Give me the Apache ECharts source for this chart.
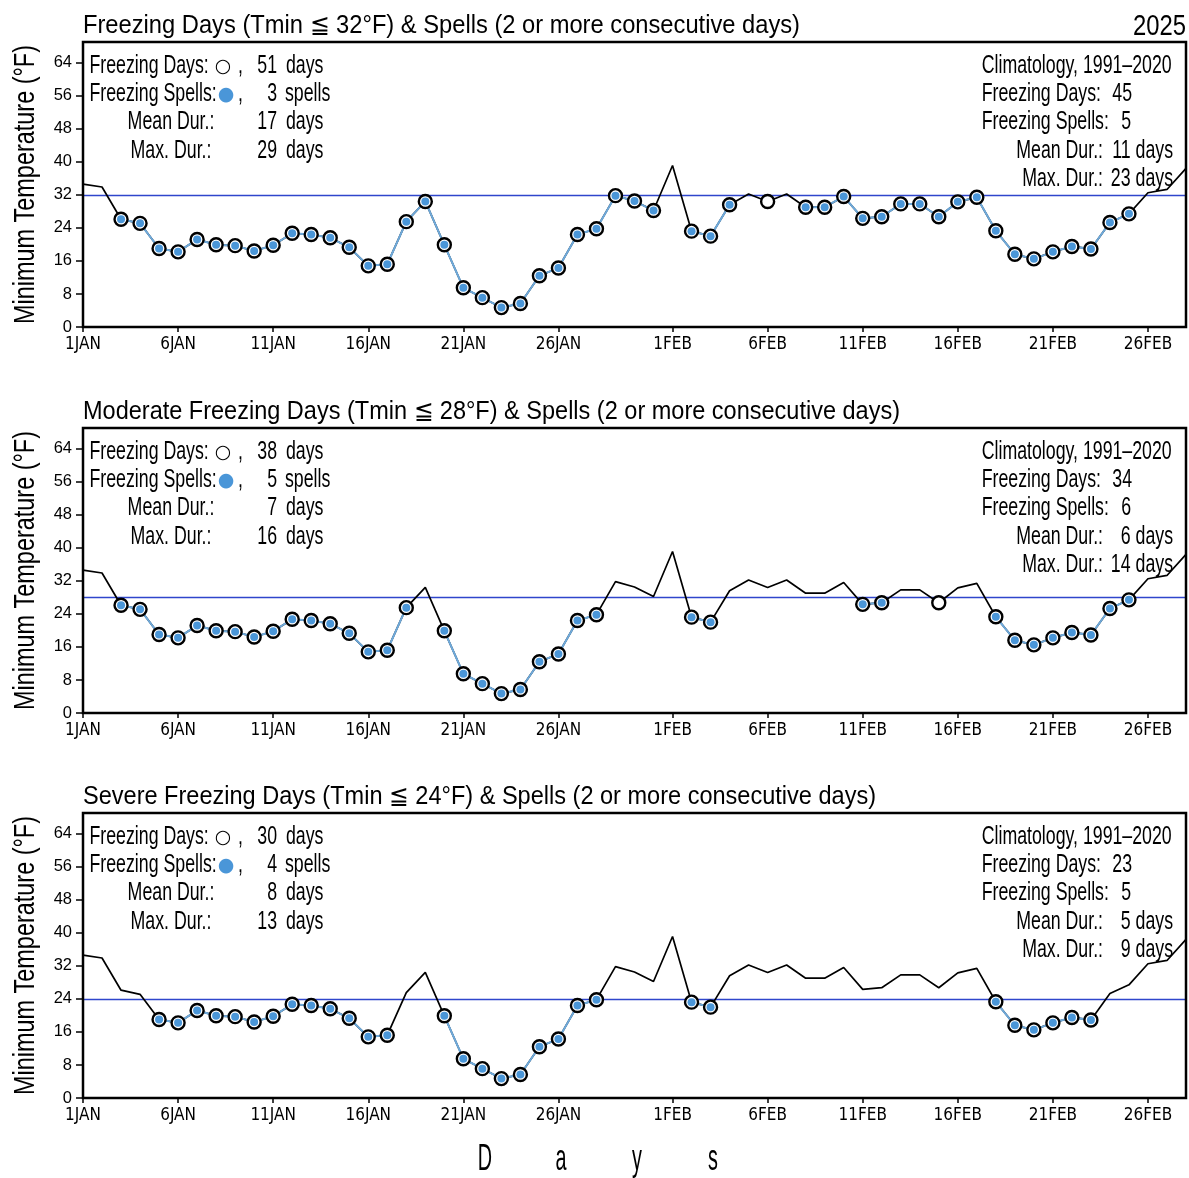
<!DOCTYPE html>
<html><head><meta charset="utf-8">
<script src="https://cdn.jsdelivr.net/npm/echarts@6/dist/echarts.min.js"></script>
<style>html,body{margin:0;padding:0;background:#fff}#c{width:1189px;height:1178px}</style>
</head><body><div id="c"></div>
<script>
// ---------------- DATA ----------------
const days = ['1JAN','2JAN','3JAN','4JAN','5JAN','6JAN','7JAN','8JAN','9JAN','10JAN',
  '11JAN','12JAN','13JAN','14JAN','15JAN','16JAN','17JAN','18JAN','19JAN','20JAN',
  '21JAN','22JAN','23JAN','24JAN','25JAN','26JAN','27JAN','28JAN','29JAN','30JAN','31JAN',
  '1FEB','2FEB','3FEB','4FEB','5FEB','6FEB','7FEB','8FEB','9FEB','10FEB',
  '11FEB','12FEB','13FEB','14FEB','15FEB','16FEB','17FEB','18FEB','19FEB','20FEB',
  '21FEB','22FEB','23FEB','24FEB','25FEB','26FEB','27FEB','28FEB'];
const xTickLabels = ['1JAN','6JAN','11JAN','16JAN','21JAN','26JAN',
  '1FEB','6FEB','11FEB','16FEB','21FEB','26FEB'];
const tmin = [34.6,33.9,26.1,25.1,19.0,18.2,21.2,19.9,19.7,18.4,
  19.8,22.7,22.4,21.6,19.3,14.8,15.2,25.5,30.4,19.9,
  9.5,7.1,4.7,5.7,12.4,14.3,22.4,23.8,31.8,30.5,28.2,
  39.1,23.2,22.0,29.6,32.2,30.4,32.2,29.0,29.0,31.6,
  26.3,26.7,29.8,29.8,26.7,30.3,31.4,23.3,17.6,16.5,
  18.2,19.5,18.9,25.3,27.4,32.5,33.3,38.4];
const thresholds = [32, 28, 24];
const panelTitles = [
  'Freezing Days (Tmin \u2266 32\u00B0F) & Spells (2 or more consecutive days)',
  'Moderate Freezing Days (Tmin \u2266 28\u00B0F) & Spells (2 or more consecutive days)',
  'Severe Freezing Days (Tmin \u2266 24\u00B0F) & Spells (2 or more consecutive days)'];
const yearLabel = '2025';
const obsFreezingDays = [51, 38, 30];
const obsSpells = [3, 5, 4];
const obsMeanDur = [17, 7, 8];
const obsMaxDur = [29, 16, 13];
const climTitle = 'Climatology, 1991\u20132020';
const climFreezingDays = [45, 34, 23];
const climSpells = [5, 6, 5];
const climMeanDur = [11, 6, 5];
const climMaxDur = [23, 14, 9];
const yTicks = [0, 8, 16, 24, 32, 40, 48, 56, 64];
const yName = 'Minimum Temperature (\u00B0F)';
const xName = 'Days';

// ---------------- LAYOUT ----------------
const FONT = 'Liberation Sans';
const tops = [42, 428, 813];
const gridH = 285;
const titleWidths = [717, 817, 793];
const BLUE = '#4a96d8', BLUE_LINE = '#6ea9da', THR = '#2f46cc';

const ctx = document.createElement('canvas').getContext('2d');
function textW(s, size) { ctx.font = size + 'px "' + FONT + '"'; return ctx.measureText(s).width; }
function txt(s, x, y, size, sx, align, extra) {
  return Object.assign({ type: 'text', x: x, y: y, scaleX: sx, z: 100, silent: true,
    style: { text: s, fontSize: size, fontFamily: FONT, fill: '#000', align: align || 'left', verticalAlign: 'middle' } }, extra || {});
}
function glyph(s, x, y, color) {
  return { type: 'text', x: x, y: y, z: 100, silent: true,
    style: { text: s, fontSize: 19, fontFamily: 'DejaVu Sans', fill: color, align: 'center', verticalAlign: 'middle' } };
}
const AS = 190 / textW(climTitle, 25);   // annotation condense factor
const graphics = [];
const isTick = function (idx, val) { return xTickLabels.indexOf(days[idx]) >= 0; };

const grids = [], xAxes = [], yAxes = [], series = [];
thresholds.forEach(function (T, k) {
  const G = tops[k];
  grids.push({ left: 83, right: 3, top: G, height: gridH, show: true, borderColor: '#000', borderWidth: 2.5, z: 10 });
  xAxes.push({ type: 'category', gridIndex: k, data: days, boundaryGap: false,
    axisLine: { show: false }, splitLine: { show: false },
    axisTick: { show: true, interval: isTick, length: 5, lineStyle: { color: '#000', width: 1.5 } },
    axisLabel: { interval: isTick, color: '#000', fontFamily: '"Liberation Sans Narrow", "DejaVu Sans Condensed", "Liberation Sans"', fontSize: 17, margin: 9 } });
  yAxes.push({ type: 'value', gridIndex: k, min: 0, max: 69, interval: 8,
    axisLine: { show: false }, splitLine: { show: false },
    axisTick: { show: true, length: 7, customValues: yTicks, lineStyle: { color: '#000', width: 1.5 } },
    axisLabel: { customValues: yTicks, color: '#000', fontFamily: FONT, fontSize: 16.5, margin: 11 } });

  const frz = tmin.map(function (v) { return v <= T; });
  const inSpell = frz.map(function (f, i) { return f && ((i > 0 && frz[i - 1]) || (i < frz.length - 1 && frz[i + 1])); });

  series.push({ type: 'line', xAxisIndex: k, yAxisIndex: k, data: tmin, symbol: 'none', z: 2,
    lineStyle: { color: '#000', width: 1.7 },
    markLine: { silent: true, symbol: 'none', label: { show: false }, z: 1,
      lineStyle: { color: THR, width: 1.3, type: 'solid', opacity: 1 },
      data: [{ yAxis: T, lineStyle: { color: THR, width: 1.3, type: 'solid' } }] } });
  series.push({ type: 'line', xAxisIndex: k, yAxisIndex: k, symbol: 'none', z: 3, connectNulls: false,
    data: tmin.map(function (v, i) { return inSpell[i] ? v : null; }),
    lineStyle: { color: BLUE_LINE, width: 2 } });
  series.push({ type: 'scatter', xAxisIndex: k, yAxisIndex: k, z: 4, symbol: 'circle', symbolSize: 13,
    itemStyle: { color: '#fff', borderColor: '#000', borderWidth: 2.4, opacity: 1 },
    data: tmin.map(function (v, i) { return frz[i] ? [i, v] : null; }).filter(Boolean) });
  series.push({ type: 'scatter', xAxisIndex: k, yAxisIndex: k, z: 5, symbol: 'circle', symbolSize: 8,
    itemStyle: { color: BLUE, opacity: 1 },
    data: tmin.map(function (v, i) { return inSpell[i] ? [i, v] : null; }).filter(Boolean) });

  // title
  const ts = titleWidths[k] / textW(panelTitles[k], 25);
  graphics.push(txt(panelTitles[k], 83, G - 16, 25, ts, 'left'));
  // y name
  graphics.push(txt(yName, 26, G + gridH / 2, 30, 279 / textW(yName, 30), 'center', { rotation: Math.PI / 2 }));
  // left block
  const r = [24, 52.3, 80.6, 108.9, 137.2].map(function (d) { return G + d; });
  graphics.push(txt('Freezing Days:', 89.5, r[0], 25, AS, 'left'));
  graphics.push(glyph('\u25CB', 223, r[0] + 1, '#000'));
  graphics.push(txt(',', 238, r[0], 25, AS, 'left'));
  graphics.push(txt(String(obsFreezingDays[k]), 277, r[0], 25, AS, 'right'));
  graphics.push(txt('days', 286, r[0], 25, AS, 'left'));
  graphics.push(txt('Freezing Spells:', 89.5, r[1], 25, AS, 'left'));
  graphics.push(glyph('\u25CF', 226, r[1] + 1, BLUE));
  graphics.push(txt(',', 238, r[1], 25, AS, 'left'));
  graphics.push(txt(String(obsSpells[k]), 277, r[1], 25, AS, 'right'));
  graphics.push(txt('spells', 285, r[1], 25, AS, 'left'));
  graphics.push(txt('Mean Dur.:', 171, r[2], 25, AS, 'center'));
  graphics.push(txt(String(obsMeanDur[k]), 277, r[2], 25, AS, 'right'));
  graphics.push(txt('days', 286, r[2], 25, AS, 'left'));
  graphics.push(txt('Max. Dur.:', 171, r[3], 25, AS, 'center'));
  graphics.push(txt(String(obsMaxDur[k]), 277, r[3], 25, AS, 'right'));
  graphics.push(txt('days', 286, r[3], 25, AS, 'left'));
  // right block
  graphics.push(txt(climTitle, 981.7, r[0], 25, AS, 'left'));
  graphics.push(txt('Freezing Days:', 981.7, r[1], 25, AS, 'left'));
  graphics.push(txt(String(climFreezingDays[k]), 1132, r[1], 25, AS, 'right'));
  graphics.push(txt('Freezing Spells:', 981.7, r[2], 25, AS, 'left'));
  graphics.push(txt(String(climSpells[k]), 1131, r[2], 25, AS, 'right'));
  graphics.push(txt('Mean Dur.:', 1103, r[3], 25, AS, 'right'));
  graphics.push(txt(climMeanDur[k] + ' days', 1173, r[3], 25, AS, 'right'));
  graphics.push(txt('Max. Dur.:', 1103, r[4], 25, AS, 'right'));
  graphics.push(txt(climMaxDur[k] + ' days', 1173, r[4], 25, AS, 'right'));
});
graphics.push(txt(yearLabel, 1186, 27, 29, 53 / textW(yearLabel, 29), 'right'));
// x-axis name, widely letter-spaced
const DS = 0.55;
graphics.push({ type: 'text', x: 599, y: 1160, scaleX: DS, z: 100, silent: true,
  style: { text: xName.split('').map(function (c) { return '{a|' + c + '}'; }).join(''),
    align: 'center', verticalAlign: 'middle', fill: '#000', fontSize: 36, fontFamily: FONT,
    rich: { a: { width: 76 / DS, align: 'center', fontSize: 36, fontFamily: FONT, fill: '#000' } } } });

const chart = echarts.init(document.getElementById('c'));
chart.setOption({
  animation: false,
  backgroundColor: '#fff',
  grid: grids, xAxis: xAxes, yAxis: yAxes, series: series,
  graphic: { elements: graphics }
});
</script></body></html>
